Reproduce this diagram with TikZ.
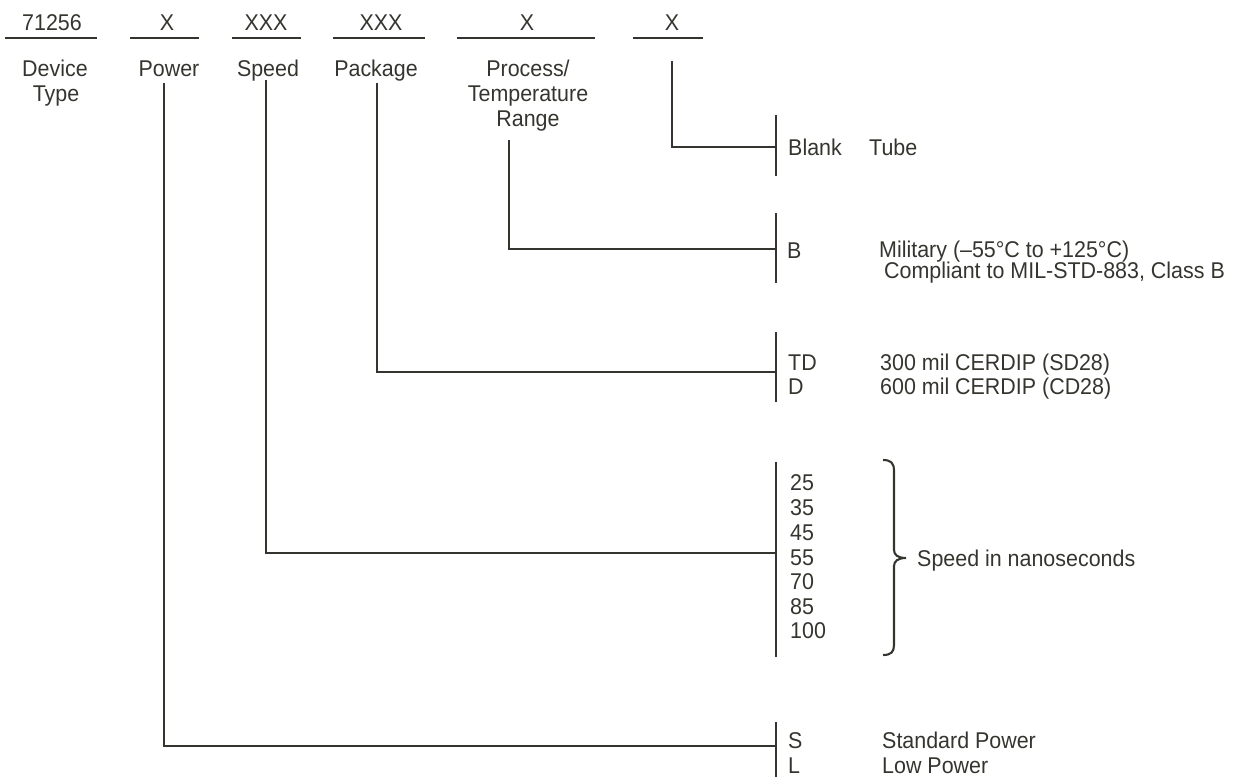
\documentclass[tikz,border=0pt]{standalone}
\usepackage{fontspec}
\setmainfont{Liberation Sans}[FakeStretch=0.94]
\definecolor{ink}{HTML}{35352F}
\begin{document}
\begin{tikzpicture}[x=1pt,y=-1pt,
  lbl/.style={inner sep=0pt,text height=16.3pt,text depth=0pt,text=ink,font=\fontsize{22.8}{25}\selectfont},
  lw/.style={lbl,anchor=west},
  conn/.style={draw=ink,line width=2.3pt},
  uline/.style={draw=ink,line width=2.6pt}]
\useasboundingbox (0,0) rectangle (1246,777);
% header codes
\node[lbl] (h1) at (52,22) {71256};
\node[lbl] (h2) at (167,22) {X};
\node[lbl] (h3) at (266,22) {XXX};
\node[lbl] (h4) at (381,22) {XXX};
\node[lbl] (h5) at (527,22) {X};
\node[lbl] (h6) at (672,22) {X};
% underlines
\coordinate (u1a) at (5,38);   \coordinate (u1b) at (97,38);
\coordinate (u2a) at (130,38); \coordinate (u2b) at (199,38);
\coordinate (u3a) at (232,38); \coordinate (u3b) at (301,38);
\coordinate (u4a) at (333,38); \coordinate (u4b) at (425,38);
\coordinate (u5a) at (457,38); \coordinate (u5b) at (595,38);
\coordinate (u6a) at (633,38); \coordinate (u6b) at (703,38);
\draw[uline] (u1a) -- (u1b);
\draw[uline] (u2a) -- (u2b);
\draw[uline] (u3a) -- (u3b);
\draw[uline] (u4a) -- (u4b);
\draw[uline] (u5a) -- (u5b);
\draw[uline] (u6a) -- (u6b);
% field names
\node[lbl] (dev1) at (55,68) {Device};
\node[lbl] (dev2) at (56,93) {Type};
\node[lbl] (pow) at (169,68) {Power};
\node[lbl] (spd) at (268,68) {Speed};
\node[lbl] (pkg) at (376,68) {Package};
\node[lbl] (prc1) at (528,68) {Process/};
\node[lbl] (prc2) at (528,93) {Temperature};
\node[lbl] (prc3) at (528,118) {Range};
% bars
\coordinate (bar1t) at (776,115); \coordinate (bar1b) at (776,176);
\coordinate (bar2t) at (776,213); \coordinate (bar2b) at (776,283);
\coordinate (bar3t) at (776,332); \coordinate (bar3b) at (776,402);
\coordinate (bar4t) at (776,462); \coordinate (bar4b) at (776,657);
\coordinate (bar5t) at (776,722); \coordinate (bar5b) at (776,777);
\draw[conn] (bar1t) -- (bar1b);
\draw[conn] (bar2t) -- (bar2b);
\draw[conn] (bar3t) -- (bar3b);
\draw[conn] (bar4t) -- (bar4b);
\draw[conn] (bar5t) -- (bar5b);
% leader lines
\coordinate (l6t) at (672,61);  \coordinate (l6j) at (776,147);
\coordinate (l5t) at (509,140); \coordinate (l5j) at (776,249);
\coordinate (l4t) at (377,83);  \coordinate (l4j) at (776,372);
\coordinate (l3t) at (266,80);  \coordinate (l3j) at (776,553);
\coordinate (l2t) at (164,83);  \coordinate (l2j) at (776,746);
\draw[conn] (l6t) |- (l6j);
\draw[conn] (l5t) |- (l5j);
\draw[conn] (l4t) |- (l4j);
\draw[conn] (l3t) |- (l3j);
\draw[conn] (l2t) |- (l2j);
% options
\node[lw] (blank) at (788,147) {Blank};
\node[lw] (tube) at (869,147) {Tube};
\node[lw] (optB) at (787,250) {B};
\node[lw] (mil1) at (879,249) {Military (–55°C to +125°C)};
\node[lw] (mil2) at (884,270) {Compliant to MIL-STD-883, Class B};
\node[lw] (optTD) at (788,362) {TD};
\node[lw] (optD) at (788,386) {D};
\node[lw] (pk1) at (880,362) {300 mil CERDIP (SD28)};
\node[lw] (pk2) at (880,386) {600 mil CERDIP (CD28)};
\node[lw] (s25) at (790,482) {25};
\node[lw] (s35) at (790,507) {35};
\node[lw] (s45) at (790,532) {45};
\node[lw] (s55) at (790,557) {55};
\node[lw] (s70) at (790,581) {70};
\node[lw] (s85) at (790,606) {85};
\node[lw] (s100) at (790,630) {100};
\coordinate (brT) at (883,460);
\coordinate (brTip) at (906,558);
\coordinate (brB) at (883,655);
\draw[conn,line width=2.1pt] (brT) .. controls (891,460) and (894,463) .. (894,471) -- (894,550)
  .. controls (894,555) and (898,558) .. (brTip)
  .. controls (898,558) and (894,561) .. (894,566) -- (894,645)
  .. controls (894,652) and (891,655) .. (brB);
\node[lw] (spdns) at (917,558) {Speed in nanoseconds};
\node[lw] (optS) at (788,740) {S};
\node[lw] (optL) at (788,765) {L};
\node[lw] (stdp) at (882,740) {Standard Power};
\node[lw] (lowp) at (882,765) {Low Power};
\end{tikzpicture}
\end{document}
